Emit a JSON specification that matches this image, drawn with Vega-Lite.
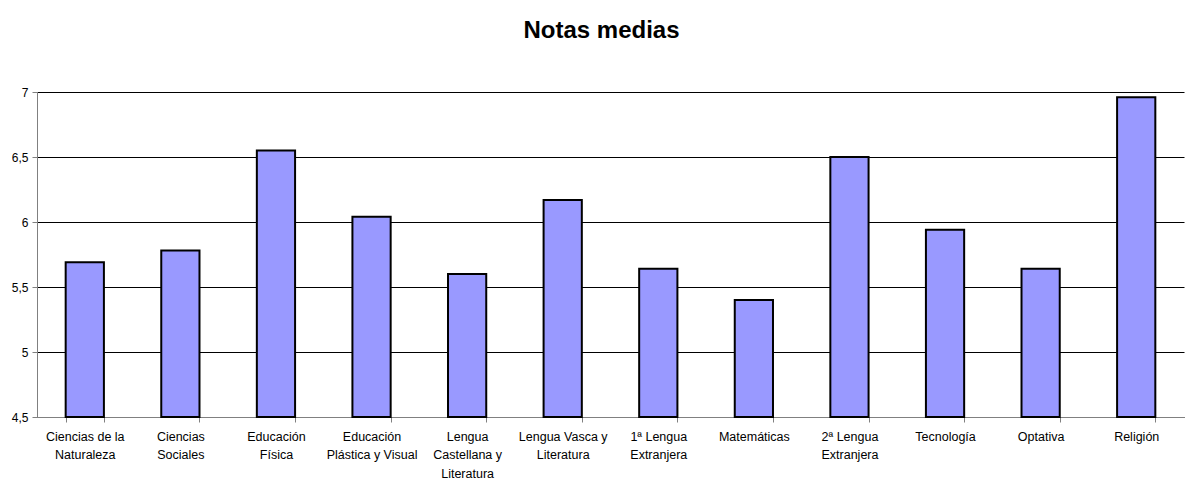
{
  "$schema": "https://vega.github.io/schema/vega-lite/v6.json",
  "autosize": "none",
  "width": 1147,
  "height": 325,
  "padding": {"left": 37, "top": 92, "right": 2, "bottom": 63},
  "background": "white",
  "title": {
    "text": "Notas medias",
    "font": "Liberation Sans",
    "fontSize": 24,
    "fontWeight": "bold",
    "color": "black",
    "anchor": "middle",
    "dx": -9,
    "offset": 43
  },
  "config": {
    "view": {"stroke": null},
    "axis": {"labelFont": "Liberation Sans", "labelColor": "black"}
  },
  "data": {
    "values": [
      {"asignatura": "Ciencias de la Naturaleza", "nota": 5.69},
      {"asignatura": "Ciencias Sociales", "nota": 5.78},
      {"asignatura": "Educación Física", "nota": 6.55},
      {"asignatura": "Educación Plástica y Visual", "nota": 6.04},
      {"asignatura": "Lengua Castellana y Literatura", "nota": 5.6},
      {"asignatura": "Lengua Vasca y Literatura", "nota": 6.17},
      {"asignatura": "1ª Lengua Extranjera", "nota": 5.64},
      {"asignatura": "Matemáticas", "nota": 5.4},
      {"asignatura": "2ª Lengua Extranjera", "nota": 6.5},
      {"asignatura": "Tecnología", "nota": 5.94},
      {"asignatura": "Optativa", "nota": 5.64},
      {"asignatura": "Religión", "nota": 6.96}
    ]
  },
  "mark": {"type": "bar", "fill": "#9999FF", "stroke": "black", "strokeWidth": 2},
  "encoding": {
    "x": {
      "field": "asignatura",
      "type": "nominal",
      "sort": null,
      "title": null,
      "scale": {"paddingInner": 0.6, "paddingOuter": 0.3},
      "axis": {
        "labelAngle": 0,
        "labelFontSize": 12.5,
        "labelLineHeight": 18.5,
        "labelPadding": 8,
        "labelLimit": 200,
        "tickBand": "extent",
        "tickColor": "#808080",
        "tickSize": 5,
        "domainColor": "#808080",
        "labelExpr": "datum.value == 'Ciencias de la Naturaleza' ? ['Ciencias de la', 'Naturaleza'] : datum.value == 'Ciencias Sociales' ? ['Ciencias', 'Sociales'] : datum.value == 'Educación Física' ? ['Educación', 'Física'] : datum.value == 'Educación Plástica y Visual' ? ['Educación', 'Plástica y Visual'] : datum.value == 'Lengua Castellana y Literatura' ? ['Lengua', 'Castellana y', 'Literatura'] : datum.value == 'Lengua Vasca y Literatura' ? ['Lengua Vasca y', 'Literatura'] : datum.value == '1ª Lengua Extranjera' ? ['1ª Lengua', 'Extranjera'] : datum.value == '2ª Lengua Extranjera' ? ['2ª Lengua', 'Extranjera'] : datum.value"
      }
    },
    "y": {
      "field": "nota",
      "type": "quantitative",
      "title": null,
      "scale": {"domain": [4.5, 7], "zero": false, "nice": false},
      "axis": {
        "values": [4.5, 5, 5.5, 6, 6.5, 7],
        "labelExpr": "replace(format(datum.value, '.1~f'), '.', ',')",
        "labelFontSize": 12,
        "labelPadding": 4,
        "tickColor": "#808080",
        "tickSize": 5,
        "domainColor": "#808080",
        "grid": true,
        "gridColor": "black",
        "gridOpacity": 1,
        "gridWidth": 1
      }
    },
    "y2": {"datum": 4.5}
  }
}
